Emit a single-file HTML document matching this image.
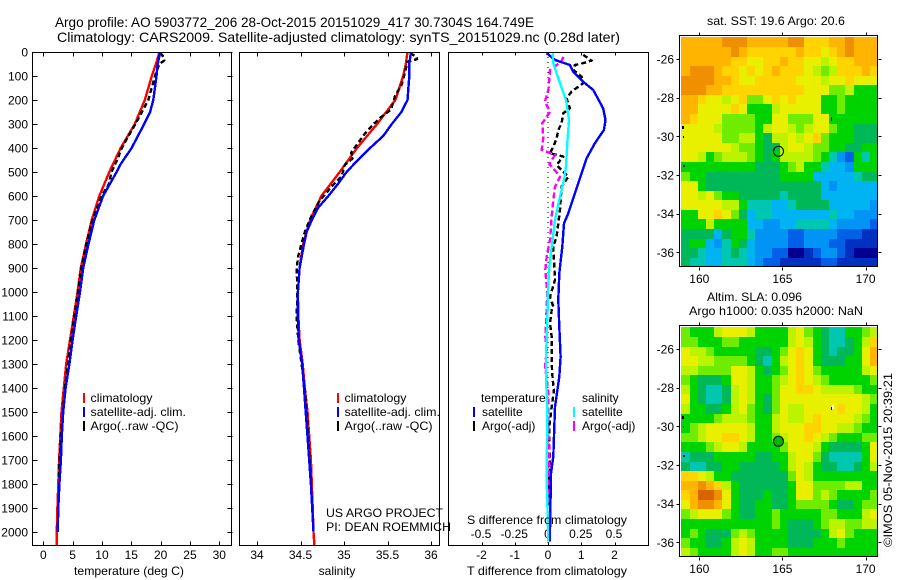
<!DOCTYPE html>
<html>
<head>
<meta charset="utf-8">
<title>Argo profile</title>
<style>
html,body{margin:0;padding:0;background:#fff;}
svg{display:block;}
text{font-family:"Liberation Sans",sans-serif;font-size:12px;fill:#000;}
.title{font-size:14px;}
.frame{fill:none;stroke:#000;stroke-width:1;shape-rendering:crispEdges;}
.tick{stroke:#000;stroke-width:1;shape-rendering:crispEdges;}
.series{fill:none;stroke-linejoin:round;shape-rendering:crispEdges;}
</style>
</head>
<body>
<svg id="chart" width="900" height="580" viewBox="0 0 900 580" xmlns="http://www.w3.org/2000/svg">
  <rect x="0" y="0" width="900" height="580" fill="#fff"/>
  <text class="title" x="55" y="27" textLength="479" lengthAdjust="spacingAndGlyphs">Argo profile: AO 5903772_206 28-Oct-2015 20151029_417 30.7304S 164.749E</text>
  <text class="title" x="57" y="42" textLength="563" lengthAdjust="spacingAndGlyphs">Climatology: CARS2009. Satellite-adjusted climatology: synTS_20151029.nc (0.28d later)</text>

  <g id="heat-sst"></g>
  <g id="heat-sla"></g>
  <g id="ticks"></g>
  <g id="lines"></g>

  <rect class="frame" x="32.5" y="52.5" width="199" height="493"/>
  <rect class="frame" x="239.5" y="52.5" width="200" height="493"/>
  <rect class="frame" x="448.5" y="52.5" width="200" height="493"/>
  <rect class="frame" x="679.5" y="35.5" width="198" height="231"/>
  <rect class="frame" x="679.5" y="325.5" width="198" height="231"/>

  <text x="129" y="575" text-anchor="middle" textLength="110" lengthAdjust="spacingAndGlyphs">temperature (deg C)</text>
  <text x="337" y="575" text-anchor="middle">salinity</text>
  <text x="547" y="575" text-anchor="middle" textLength="160" lengthAdjust="spacingAndGlyphs">T difference from climatology</text>
  <text x="547" y="524" text-anchor="middle" textLength="160" lengthAdjust="spacingAndGlyphs">S difference from climatology</text>

  <g>
    <rect x="83" y="393" width="2" height="10" fill="#f00"/>
    <text x="90.5" y="402" textLength="62" lengthAdjust="spacingAndGlyphs">climatology</text>
    <rect x="83" y="407" width="2" height="10" fill="#00f"/>
    <text x="90.5" y="416" textLength="95.5" lengthAdjust="spacingAndGlyphs">satellite-adj. clim.</text>
    <rect x="83" y="421" width="2" height="10" fill="#000"/>
    <text x="90.5" y="430" textLength="88" lengthAdjust="spacingAndGlyphs">Argo(..raw -QC)</text>
  </g>
  <g>
    <rect x="337" y="393" width="2" height="10" fill="#f00"/>
    <text x="344.5" y="402" textLength="62" lengthAdjust="spacingAndGlyphs">climatology</text>
    <rect x="337" y="407" width="2" height="10" fill="#00f"/>
    <text x="344.5" y="416" textLength="95.5" lengthAdjust="spacingAndGlyphs">satellite-adj. clim.</text>
    <rect x="337" y="421" width="2" height="10" fill="#000"/>
    <text x="344.5" y="430" textLength="88" lengthAdjust="spacingAndGlyphs">Argo(..raw -QC)</text>
  </g>
  <g>
    <text x="481" y="402">temperature</text>
    <rect x="473" y="407" width="2" height="10" fill="#00f"/>
    <text x="482" y="416">satellite</text>
    <rect x="473" y="421" width="2" height="10" fill="#000"/>
    <text x="482" y="430">Argo(-adj)</text>
    <text x="582" y="402">salinity</text>
    <rect x="573" y="407" width="2" height="10" fill="#0ff"/>
    <text x="582" y="416">satellite</text>
    <rect x="573" y="421" width="2" height="10" fill="#f0f"/>
    <text x="582" y="430">Argo(-adj)</text>
  </g>

  <text x="326" y="517" textLength="117" lengthAdjust="spacingAndGlyphs">US ARGO PROJECT</text>
  <text x="326" y="531" textLength="125" lengthAdjust="spacingAndGlyphs">PI: DEAN ROEMMICH</text>

  <text x="776" y="25" text-anchor="middle" textLength="138" lengthAdjust="spacingAndGlyphs">sat. SST: 19.6 Argo: 20.6</text>
  <text x="707" y="301" textLength="95" lengthAdjust="spacingAndGlyphs">Altim. SLA: 0.096</text>
  <text x="689" y="315" textLength="174" lengthAdjust="spacingAndGlyphs">Argo h1000: 0.035 h2000: NaN</text>
  <text transform="translate(892,547) rotate(-90)" textLength="174" lengthAdjust="spacingAndGlyphs">©IMOS 05-Nov-2015 20:39:21</text>

  <circle cx="778.5" cy="151.3" r="5" fill="none" stroke="#000" stroke-width="1"/>
  <circle cx="778.5" cy="441.3" r="5" fill="#00b800" stroke="#000" stroke-width="1"/>
  <rect x="832" y="405" width="2" height="4" fill="#fff"/>
  <rect x="831" y="407" width="1" height="3" fill="#000"/>
  <rect x="831" y="117" width="1" height="4" fill="#000"/>
  <rect x="682" y="126" width="2" height="3" fill="#000"/>
  <rect x="683" y="136" width="1" height="2" fill="#000"/>
  <rect x="683" y="165" width="2" height="2" fill="#000"/>
  <rect x="682" y="416" width="2" height="3" fill="#000"/>
  <rect x="683" y="426" width="1" height="2" fill="#000"/>
  <rect x="683" y="455" width="2" height="2" fill="#000"/>
</svg>
<script>
// ---- tick labels ----
const depthTicks = [0,100,200,300,400,500,600,700,800,900,1000,1100,1200,1300,1400,1500,1600,1700,1800,1900,2000];
const tempTicks = [0,5,10,15,20,25,30];
const salTicks = [34,34.5,35,35.5,36];
const tDiffTicks = [-2,-1,0,1,2];
const sDiffTicks = [-0.5,-0.25,0,0.25,0.5];
const lonTicks = [160,165,170];
const latTicks = [-26,-28,-30,-32,-34,-36];

// ---- temperature panel ----
const climDepth = [0,50,100,200,300,400,500,600,700,800,900,1000,1100,1200,1300,1400,1500,1600,1700,1800,1900,2000,2055];
const climTemp = [19.8,19.2,18.5,17.3,15.6,13.2,11.25,9.55,8.25,7.3,6.4,5.85,5.2,4.55,3.9,3.5,3.1,2.9,2.7,2.55,2.4,2.3,2.3];
const satTempDepth = [0,50,100,200,250,300,400,470,500,600,700,800,900,1000,1100,1200,1300,1400,1500,1600,1700,1800,1900,2000];
const satTemp = [19.9,19.5,19.3,18.75,18.2,17.2,15.05,13.1,12.5,10.2,8.7,7.7,6.8,6.25,5.6,5.0,4.45,3.8,3.4,3.15,3.0,2.75,2.55,2.45];
const argoTempDepth = [5,20,35,50,80,140,200,250,300,350,400,450,500,550,600,700,800,900,1000,1200,1400,1600,1780];
const argoTemp = [19.9,20.5,20.6,19.8,19.3,18.6,17.9,16.8,15.7,14.5,13.4,12.6,11.6,11.2,9.9,8.4,7.3,6.5,5.9,4.7,3.7,3.0,2.6];

// ---- salinity panel ----
const climSal = [35.73,35.71,35.68,35.59,35.38,35.15,34.95,34.74,34.61,34.53,34.49,34.47,34.475,34.49,34.525,34.55,34.58,34.6,34.62,34.63,34.64,34.65,34.66];
const satSalDepth = [0,50,100,200,250,300,350,400,450,500,550,600,650,700,750,800,900,1000,1100,1200,1300,1400,1500,1600,1700,1800,1900,2000];
const satSal = [35.77,35.75,35.75,35.73,35.66,35.55,35.45,35.3,35.16,35.03,34.93,34.82,34.7,34.63,34.57,34.54,34.49,34.47,34.47,34.48,34.52,34.54,34.56,34.58,34.6,34.62,34.635,34.65];
const argoSalDepth = [5,20,30,40,70,100,140,180,240,270,300,340,370,420,440,470,520,560,620,680,750,800,850,900,1000,1100,1200,1400,1600,1780];
const argoSal = [35.76,35.835,35.84,35.73,35.71,35.69,35.66,35.59,35.54,35.43,35.34,35.24,35.18,35.08,35.11,35.01,34.97,34.86,34.72,34.63,34.55,34.51,34.475,34.455,34.465,34.455,34.475,34.55,34.59,34.62];

// ---- difference panel ----
const diffTSatDepth = [5,33,54,82,124,158,235,283,325,380,443,505,589,672,714,811,922,1033,1144,1269,1353,1478,1686,1755,1992,2040];
const diffTSat = [-0.04,0.21,0.66,0.76,1.06,1.36,1.66,1.73,1.68,1.41,1.16,1.01,0.81,0.61,0.48,0.43,0.34,0.31,0.34,0.38,0.34,0.21,0.16,0.09,0.06,0.06];
const diffSSatDepth = [5,47,130,200,283,380,478,533,603,700,811,895,992,1075,1283,1353,1492,1783,1978,2040];
const diffSSat = [0.035,0.04,0.09,0.135,0.158,0.145,0.135,0.12,0.09,0.053,0.028,0.01,0,-0.003,-0.015,-0.015,-0.005,-0.01,0,0];
const diffTArgoDepth = [12,36,47,54,75,103,130,165,193,235,255,297,325,360,395,422,436,471,520,561,658,770,811,950,1020,1061,1075,1130,1186,1242,1297,1367,1408,1478,1561,1644,1714,1825,1894];
const diffTArgo = [1.06,1.31,1.04,0.81,0.76,1.01,1.06,0.71,0.56,0.66,0.46,0.41,0.31,0.26,0.16,0.06,0.46,0.26,0.61,0.41,0.36,0.26,0.16,0.21,0.06,0.16,0.11,0.06,0.11,0.11,0.11,0.14,0.18,0.11,0.04,0.04,0.06,0.03,0.003];
const diffSArgoDepth = [20,40,75,158,207,249,297,360,408,429,467,505,521,561,617,686,783,853,908,1005,1061,1130,1186,1242,1311,1422,1589,1658,1755,1880];
const diffSArgo = [0.115,0.10,0.015,0.003,-0.023,0.015,-0.043,-0.035,-0.047,0.053,0.01,0.07,0.09,0.053,0.04,0.028,0.015,-0.01,-0.02,-0.005,-0.01,-0.015,-0.02,-0.01,-0.022,0.003,0.003,0.01,0.01,0];
const zeroDepth = [0,2055];
const zeroDiff = [0,0];

// ---- maps: colour level 0 (coldest/lowest) to 14 (warmest/highest) ----
const mapPalette = ['#000090','#0030c0','#0060e8','#0094f4','#00b4f4','#00c8b0','#00b858','#00d400','#70ec00','#bcf400','#e8f000','#ffd400','#ffb400','#f09000','#d86400'];
const sstGrid = [
[12,12,12,12,12,13,13,13,12,12,12,12,12,13,13,11,11,11,12,12,13,12,12,12],
[12,12,12,12,12,12,13,12,11,11,11,11,11,11,12,11,11,10,11,12,13,12,12,12],
[12,12,12,12,12,12,11,11,10,10,11,11,12,11,11,10,10,9,10,11,11,12,12,12],
[12,13,13,13,12,11,11,10,11,10,11,12,11,11,11,10,9,8,9,11,11,11,12,11],
[13,13,13,13,12,12,11,10,10,11,11,11,11,11,10,10,10,9,10,10,11,10,10,10],
[13,13,13,12,12,11,11,11,11,11,11,11,11,11,11,10,10,10,8,8,9,7,7,7],
[12,12,11,10,10,9,10,11,8,8,10,11,10,11,10,10,10,7,7,8,7,7,7,7],
[12,12,10,10,10,10,11,10,7,7,7,9,10,10,10,10,10,7,7,8,7,7,7,7],
[12,11,10,10,10,8,8,8,8,7,7,10,10,8,8,8,10,10,7,7,7,7,7,7],
[10,10,10,10,9,8,8,8,8,7,9,10,10,9,8,9,10,10,8,7,7,6,6,6],
[10,10,10,10,10,8,8,9,9,7,6,9,9,10,9,10,11,8,7,7,7,6,6,6],
[10,10,10,10,10,10,9,8,8,7,6,6,9,10,10,9,8,8,7,7,6,6,7,7],
[10,10,9,7,8,9,9,9,8,7,6,7,9,9,9,9,8,7,5,3,2,7,5,7],
[7,7,7,7,7,7,7,7,7,6,6,6,7,8,9,7,7,5,4,4,3,7,7,7],
[8,7,7,6,6,6,6,6,6,6,6,6,7,7,7,7,4,4,4,4,4,5,6,6],
[10,10,7,6,6,6,6,6,6,6,6,6,6,6,6,6,6,4,3,4,4,4,4,4],
[10,10,9,10,8,7,7,6,6,6,6,6,5,6,6,6,6,4,4,4,4,4,4,4],
[10,10,10,10,10,9,9,7,5,5,5,4,4,5,6,6,6,6,4,4,4,4,4,3],
[7,7,10,10,11,10,8,6,4,5,5,4,4,4,4,4,4,4,5,4,4,3,3,3],
[7,7,7,9,7,7,7,7,4,4,3,3,4,4,5,5,5,5,4,3,3,3,3,2],
[6,6,6,6,4,6,7,7,5,3,3,3,3,2,2,3,3,3,3,2,2,2,1,1],
[6,7,7,4,3,5,7,6,4,3,3,3,3,2,2,3,3,3,2,2,1,1,1,1],
[6,6,5,4,4,5,6,5,4,3,3,2,2,0,0,1,2,3,3,2,1,0,0,0],
[6,5,5,4,4,5,5,5,4,3,2,2,1,1,1,1,1,2,2,1,1,1,1,1]
];
const slaGrid = [
[8,7,7,7,9,10,10,10,9,7,7,7,7,9,10,8,7,6,5,5,7,7,8,9],
[8,8,7,7,7,8,8,7,7,7,7,7,7,9,10,9,7,6,5,5,6,7,9,11],
[10,9,9,8,7,7,7,7,7,6,6,7,8,10,11,10,7,6,5,6,6,7,10,12],
[10,10,9,9,8,8,8,8,7,6,5,7,9,10,11,10,7,6,6,6,7,7,10,12],
[9,9,8,8,8,8,10,10,9,7,6,7,8,10,11,10,8,7,7,7,7,7,9,10],
[8,7,6,6,6,7,10,10,9,7,7,8,9,10,11,10,9,8,7,7,7,7,7,8],
[9,7,6,5,5,6,9,10,9,7,7,8,10,10,11,11,10,9,9,9,9,8,7,7],
[10,7,6,5,5,6,9,10,9,7,6,8,10,10,10,10,10,10,10,10,10,10,9,8],
[9,7,7,6,6,7,9,10,8,7,6,8,10,9,9,10,10,10,10,11,10,10,9,7],
[7,7,7,7,8,9,9,9,8,7,7,9,10,9,9,10,11,10,10,10,10,9,8,7],
[7,8,9,10,10,10,10,10,9,7,7,9,10,10,10,11,11,10,10,9,9,8,7,7],
[8,8,9,10,10,11,11,10,9,7,7,8,9,10,10,11,10,9,8,7,7,7,8,8],
[7,7,7,8,9,10,10,9,7,7,7,7,8,10,10,10,9,7,6,6,6,6,7,10],
[5,6,6,6,7,7,7,7,7,6,6,7,7,9,10,10,8,6,5,5,5,5,7,10],
[6,5,5,6,6,7,7,6,6,6,6,6,7,9,10,9,7,6,6,5,5,6,7,9],
[11,11,10,9,7,7,6,6,6,6,6,6,6,8,10,9,7,7,7,7,7,7,7,7],
[12,12,13,12,11,9,7,6,6,6,6,6,6,7,10,10,8,8,8,8,9,9,7,7],
[11,12,14,14,13,10,7,6,6,6,7,6,6,7,10,10,8,9,8,7,7,7,7,8],
[10,12,13,13,12,10,7,6,6,7,7,6,6,7,8,8,8,8,7,6,6,7,8,8],
[8,9,10,10,10,8,7,6,6,7,7,8,7,7,7,7,7,8,8,7,7,7,9,10],
[7,7,7,7,7,7,7,7,7,7,7,8,7,6,6,6,7,8,9,9,8,8,9,9],
[7,8,7,6,6,6,8,9,8,7,7,7,7,6,6,6,6,7,9,10,8,7,7,7],
[8,7,7,6,6,7,9,10,9,7,7,7,7,6,6,6,7,7,7,8,7,7,7,7],
[9,8,7,7,7,7,9,10,9,7,7,8,8,7,7,7,7,7,7,7,7,7,7,7]
];

// ---- axis functions ----
const SVGNS = 'http://www.w3.org/2000/svg';
const yDepth = d => 52 + d * 0.24;
const xTemp = t => 43.3 + t * 5.867;
const xSal = s => 257 + (s - 34) * 87;
const xTDiff = v => 548 + v * 33.25;
const xSDiff = v => 548 + v * 133;
const xLon = lon => 699.3 + (lon - 160) * 16.63;
const ySstLat = lat => 59 + (-26 - lat) * 19.33;
const ySlaLat = lat => 349 + (-26 - lat) * 19.33;

const ticksG = document.getElementById('ticks');
const linesG = document.getElementById('lines');

function tickLine(x1, y1, x2, y2) {
  const l = document.createElementNS(SVGNS, 'line');
  l.setAttribute('x1', Math.round(x1) + 0.5);
  l.setAttribute('y1', Math.round(y1) + 0.5);
  l.setAttribute('x2', Math.round(x2) + 0.5);
  l.setAttribute('y2', Math.round(y2) + 0.5);
  l.setAttribute('class', 'tick');
  
  
  ticksG.appendChild(l);
}
function tickLabel(x, y, str, anchor) {
  const t = document.createElementNS(SVGNS, 'text');
  t.setAttribute('x', x);
  t.setAttribute('y', y);
  t.setAttribute('text-anchor', anchor);
  
  
  t.textContent = str;
  ticksG.appendChild(t);
}
function drawLine(name, depths, values, xFn, color, width, dash) {
  const p = document.createElementNS(SVGNS, 'polyline');
  const n = Math.min(depths.length, values.length);
  const pts = [];
  for (let i = 0; i < n; i++) {
    pts.push(xFn(values[i]).toFixed(1) + ',' + yDepth(depths[i]).toFixed(1));
  }
  p.setAttribute('points', pts.join(' '));
  p.setAttribute('class', 'series');
  p.setAttribute('stroke', color);
  p.setAttribute('stroke-width', width);
  if (dash) p.setAttribute('stroke-dasharray', dash);
  
  
  linesG.appendChild(p);
}
function drawMap(groupId, grid, yLat) {
  const g = document.getElementById(groupId);
  const lon0 = 158.92, lonStep = 0.4932;
  const lat0 = -24.88, latStep = 0.4958;
  grid.forEach((row, r) => {
    row.forEach((level, c) => {
      const x0 = Math.round(xLon(lon0 + c * lonStep));
      const x1 = Math.round(xLon(lon0 + (c + 1) * lonStep));
      const y0 = Math.round(yLat(lat0 - r * latStep));
      const y1 = Math.round(yLat(lat0 - (r + 1) * latStep));
      const cell = document.createElementNS(SVGNS, 'rect');
      cell.setAttribute('x', x0);
      cell.setAttribute('y', y0);
      cell.setAttribute('width', x1 - x0);
      cell.setAttribute('height', y1 - y0);
      cell.setAttribute('fill', mapPalette[Math.max(0, Math.min(14, Math.round(level)))]);
      cell.setAttribute('shape-rendering', 'crispEdges');
      
      
      g.appendChild(cell);
    });
  });
}

// ---- ticks ----
depthTicks.forEach(d => {
  const y = yDepth(d);
  tickLine(32, y, 37, y);
  tickLine(227, y, 232, y);
  tickLabel(28, y + 4.5, String(d), 'end');
});
tempTicks.forEach(t => {
  const x = xTemp(t);
  tickLine(x, 52, x, 56);
  tickLine(x, 541, x, 545);
  tickLabel(x, 559, String(t), 'middle');
});
salTicks.forEach(s => {
  const x = xSal(s);
  tickLine(x, 52, x, 56);
  tickLine(x, 541, x, 545);
  tickLabel(x, 559, String(s), 'middle');
});
tDiffTicks.forEach(v => {
  const x = xTDiff(v);
  tickLine(x, 52, x, 55);
  tickLine(x, 542, x, 545);
  tickLabel(x, 559, String(v), 'middle');
});
sDiffTicks.forEach(v => {
  tickLabel(xSDiff(v) - 0.5, 538, String(v), 'middle');
});
lonTicks.forEach(lon => {
  const x = xLon(lon);
  tickLine(x, 32, x, 35);
  tickLine(x, 267, x, 270);
  tickLine(x, 322, x, 325);
  tickLine(x, 557, x, 560);
  tickLabel(x, 283, String(lon), 'middle');
  tickLabel(x, 573, String(lon), 'middle');
});
latTicks.forEach(lat => {
  const y1 = ySstLat(lat);
  const y2 = ySlaLat(lat);
  tickLine(676, y1, 679, y1);
  tickLine(878, y1, 881, y1);
  tickLine(676, y2, 679, y2);
  tickLine(878, y2, 881, y2);
  tickLabel(674, y1 + 4.5, String(lat), 'end');
  tickLabel(674, y2 + 4.5, String(lat), 'end');
});

// ---- maps ----
drawMap('heat-sst', sstGrid, ySstLat);
drawMap('heat-sla', slaGrid, ySlaLat);

// ---- series ----
drawLine('temperature-climatology-line', climDepth, climTemp, xTemp, '#f00', 2.4);
drawLine('temperature-argo-line', argoTempDepth, argoTemp, xTemp, '#000', 2.4, '5 3');
drawLine('temperature-satellite-line', satTempDepth, satTemp, xTemp, '#00f', 2.4);
drawLine('salinity-climatology-line', climDepth, climSal, xSal, '#f00', 2.4);
drawLine('salinity-argo-line', argoSalDepth, argoSal, xSal, '#000', 2.4, '5 3');
drawLine('salinity-satellite-line', satSalDepth, satSal, xSal, '#00f', 2.4);
drawLine('zero-difference-line', zeroDepth, zeroDiff, xTDiff, '#000', 1, '1 4');
drawLine('t-difference-argo-line', diffTArgoDepth, diffTArgo, xTDiff, '#000', 2.4, '5 3');
drawLine('s-difference-argo-line', diffSArgoDepth, diffSArgo, xSDiff, '#f0f', 2.4, '6 3');
drawLine('t-difference-satellite-line', diffTSatDepth, diffTSat, xTDiff, '#00f', 2.4);
drawLine('s-difference-satellite-line', diffSSatDepth, diffSSat, xSDiff, '#0ff', 2.4);
</script>
</body>
</html>
